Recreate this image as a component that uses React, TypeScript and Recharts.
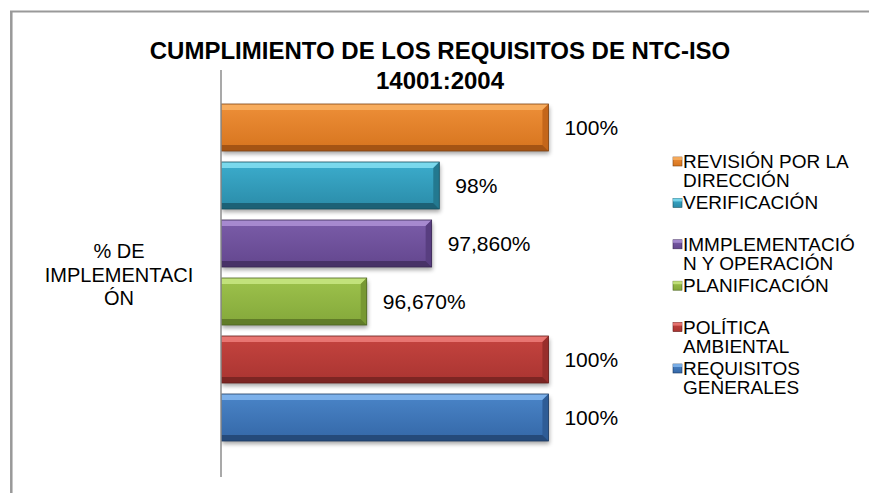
import React from 'react';
import { BarChart, Bar, XAxis, YAxis, LabelList, Legend } from 'recharts';

const categories = ['% DE IMPLEMENTACIÓN'];
const categoryLines = ['% DE', 'IMPLEMENTACI', 'ÓN'];
const seriesKeys = ['rev', 'ver', 'imp', 'plan', 'pol', 'req'];
const seriesNames = [
  'REVISIÓN POR LA DIRECCIÓN',
  'VERIFICACIÓN',
  'IMMPLEMENTACIÓN Y OPERACIÓN',
  'PLANIFICACIÓN',
  'POLÍTICA AMBIENTAL',
  'REQUISITOS GENERALES',
];
const seriesValues = [100, 98, 97.86, 96.67, 100, 100];
const legendLines = [
  ['REVISIÓN POR LA', 'DIRECCIÓN'],
  ['VERIFICACIÓN'],
  ['IMMPLEMENTACIÓ', 'N Y OPERACIÓN'],
  ['PLANIFICACIÓN'],
  ['POLÍTICA', 'AMBIENTAL'],
  ['REQUISITOS', 'GENERALES'],
];
const titleLines = ['CUMPLIMIENTO DE LOS REQUISITOS DE NTC-ISO', '14001:2004'];
const axisDomain = [94, 101];

const palette = [
  { top: '#F9B164', f1: '#EE8F38', f2: '#D6741E', right: '#C4661A', bottom: '#A45414', edge: '#7E4312', mark: '#E5832C' },
  { top: '#86E0F2', f1: '#3CADCD', f2: '#2A8BA8', right: '#237990', bottom: '#1C6176', edge: '#154E5E', mark: '#37A3C2' },
  { top: '#AE92D6', f1: '#7B5DA9', f2: '#63468E', right: '#583E80', bottom: '#483267', edge: '#392753', mark: '#7257A0' },
  { top: '#C9E784', f1: '#9DC24C', f2: '#84A83A', right: '#779832', bottom: '#617C28', edge: '#4D6520', mark: '#94B946' },
  { top: '#EE7E7A', f1: '#C5443F', f2: '#A93431', right: '#982E2B', bottom: '#7C2523', edge: '#641D1B', mark: '#BD403C' },
  { top: '#86B9F0', f1: '#4A85C8', f2: '#3467A7', right: '#2E5C96', bottom: '#254A7A', edge: '#1C3A61', mark: '#4079BE' },
];

const FONT = '"Liberation Sans", Arial, sans-serif';

const data = categories.map((cat) => {
  const row: any = { cat };
  seriesKeys.forEach((k, i) => {
    row[k] = seriesValues[i];
  });
  return row;
});

const formatLabel = (v: any) => {
  const n = Number(v);
  if (Number.isInteger(n)) return `${n}%`;
  return `${n.toFixed(3).replace('.', ',')}%`;
};

const makeShape = (idx: number) => (props: any) => {
  const { x, y, width: w, height: h } = props;
  if (!w || w <= 0) return null;
  const c = palette[idx];
  const b = 6;
  return (
    <g>
      <rect x={x + 1} y={y + 3} width={w} height={h} fill="#000" opacity={0.35} filter="url(#barShadow)" />
      <rect x={x} y={y} width={w} height={h} fill={`url(#grad${idx})`} />
      <polygon points={`${x},${y} ${x + w},${y} ${x + w - b},${y + b} ${x},${y + b}`} fill={c.top} opacity={0.85} />
      <polygon points={`${x + w},${y} ${x + w},${y + h} ${x + w - b},${y + h - b} ${x + w - b},${y + b}`} fill={c.right} />
      <polygon points={`${x},${y + h} ${x + w},${y + h} ${x + w - b},${y + h - b} ${x},${y + h - b}`} fill={c.bottom} />
      <rect x={x} y={y} width={w} height={h} fill="none" stroke={c.edge} strokeWidth={0.8} />
    </g>
  );
};

const CategoryTick = (props: any) => {
  const { y } = props;
  const offs = [-15.5, 8.5, 31.5];
  return (
    <g>
      {categoryLines.map((ln, i) => (
        <text key={i} x={119} y={y + offs[i]} textAnchor="middle" fontFamily={FONT} fontSize={20} fill="#000">
          {ln}
        </text>
      ))}
    </g>
  );
};

const LegendContent = (props: any) => {
  const payload = props.payload || [];
  return (
    <svg width={869} height={493} style={{ position: 'absolute', left: 0, top: 0, overflow: 'visible' }}>
      {payload.map((p: any, i: number) => {
        const idx = seriesNames.indexOf(p.value);
        const k = idx >= 0 ? idx : i;
        const base = 168 + 41.4 * k;
        const c = palette[k];
        return (
          <g key={k}>
            <rect x={673} y={base - 11} width={9} height={9} fill={`url(#grad${k})`} stroke={c.edge} strokeWidth={0.6} />
            <rect x={673} y={base - 11} width={9} height={3} fill={c.top} opacity={0.8} />
            {legendLines[k].map((ln, j) => (
              <text key={j} x={683} y={base + 19 * j} fontFamily={FONT} fontSize={19} fill="#000">
                {ln}
              </text>
            ))}
          </g>
        );
      })}
    </svg>
  );
};

export default function App() {
  return (
    <div style={{ position: 'absolute', left: 0, top: 0, width: 869, height: 493, overflow: 'hidden', background: '#fff' }}>
      <svg width={0} height={0} style={{ position: 'absolute' }}>
        <defs>
          {palette.map((c, i) => (
            <linearGradient key={i} id={`grad${i}`} x1="0" y1="0" x2="0" y2="1">
              <stop offset="0%" stopColor={c.f1} />
              <stop offset="100%" stopColor={c.f2} />
            </linearGradient>
          ))}
          <filter id="barShadow" x="-5%" y="-40%" width="110%" height="180%">
            <feGaussianBlur stdDeviation="2" />
          </filter>
        </defs>
      </svg>
      <svg width={869} height={493} style={{ position: 'absolute', left: 0, top: 0 }}>
        <line x1={11.3} y1={11.5} x2={11.3} y2={493} stroke="#999" strokeWidth={2.5} />
        <line x1={10} y1={11.6} x2={869} y2={11.6} stroke="#999" strokeWidth={2} />
        {titleLines.map((t, i) => (
          <text key={i} x={440} y={59 + 30 * i} textAnchor="middle" fontFamily={FONT} fontWeight="bold" fontSize={24} fill="#000">
            {t}
          </text>
        ))}
      </svg>
      <div style={{ position: 'absolute', left: 0, top: 0 }}>
        <BarChart
          width={869}
          height={493}
          data={data}
          layout="vertical"
          margin={{ top: 70, right: 266, bottom: 16, left: 21 }}
          barCategoryGap={34}
          barGap={11}
        >
          <XAxis type="number" domain={axisDomain} hide allowDataOverflow />
          <YAxis
            type="category"
            dataKey="cat"
            width={200}
            axisLine={{ stroke: '#8c8c8c', strokeWidth: 1.5 }}
            tickLine={false}
            tick={<CategoryTick />}
          />
          <Legend
            layout="vertical"
            align="center"
            verticalAlign="middle"
            wrapperStyle={{ left: 0, top: 0, width: 869, height: 493, pointerEvents: 'none' }}
            content={<LegendContent />}
          />
          {seriesKeys.map((k, i) => (
            <Bar key={k} dataKey={k} name={seriesNames[i]} fill={palette[i].mark} isAnimationActive={false} shape={makeShape(i)}>
              <LabelList dataKey={k} position="right" offset={16} formatter={formatLabel} fontFamily={FONT} fontSize={21} fill="#000" />
            </Bar>
          ))}
        </BarChart>
      </div>
    </div>
  );
}
